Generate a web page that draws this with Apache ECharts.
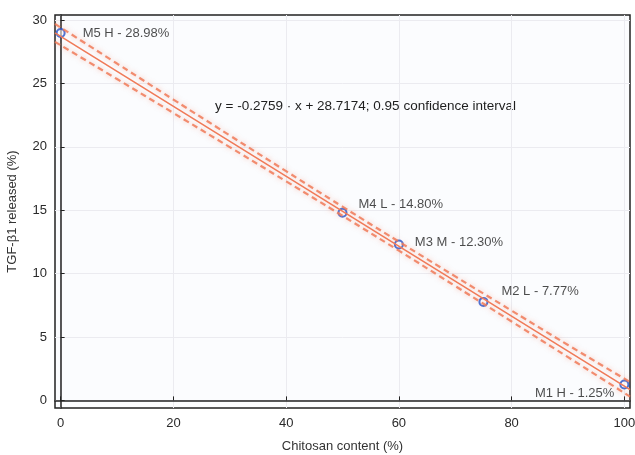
<!DOCTYPE html>
<html>
<head>
<meta charset="utf-8">
<script src="https://cdn.jsdelivr.net/npm/echarts@6/dist/echarts.min.js"></script>
<style>
  html, body { margin: 0; padding: 0; background: #fff; }
  #chart { width: 635px; height: 455px; }
</style>
</head>
<body>
<div id="chart"></div>
<script>
// samples
var sampleNames = ['M5 H - 28.98%', 'M4 L - 14.80%', 'M3 M - 12.30%', 'M2 L - 7.77%', 'M1 H - 1.25%'];
var chitosan = [0, 50, 60, 75, 100];
var released = [28.98, 14.80, 12.30, 7.77, 1.25];

// fitted line and 95% band, estimated along the x axis
var fitX = [-1, 101];
var fitY = [28.99, 0.85];
var bandX = [-1, 10, 20, 30, 40, 50, 60, 70, 80, 90, 101];
var bandUpper = [29.70, 26.57, 23.73, 20.90, 18.08, 15.28, 12.52, 9.78, 7.08, 4.37, 1.45];
var bandLower = [28.28, 25.35, 22.67, 19.98, 17.28, 14.56, 11.81, 9.02, 6.22, 3.41, 0.30];

var xTicks = [0, 20, 40, 60, 80, 100];
var yTicks = [0, 5, 10, 15, 20, 25, 30];

var equationText = 'y = -0.2759 \u00b7 x + 28.7174; 0.95 confidence interval';

var font = '"Liberation Sans", Arial, sans-serif';
var lineColor = '#f07a58';

// where each label sits relative to its point
var labelPlace = {
  'M5 H - 28.98%': { position: 'right', offset: [12, 0] },
  'M4 L - 14.80%': { position: 'right', offset: [6, -8] },
  'M3 M - 12.30%': { position: 'right', offset: [6, -2] },
  'M2 L - 7.77%': { position: 'right', offset: [8, -10] },
  'M1 H - 1.25%': { position: 'left', offset: [0, 9] }
};

function zip(xs, ys) {
  return xs.map(function (x, i) { return [x, ys[i]]; });
}

var myChart = echarts.init(document.getElementById('chart'));

var option = {
  backgroundColor: '#ffffff',
  animation: false,
  textStyle: { fontFamily: font },
  grid: {
    left: 55, right: 5, top: 15, bottom: 47,
    outerBoundsMode: 'none',
    containLabel: false,
    show: true,
    backgroundColor: '#fbfcfe',
    borderColor: '#222',
    borderWidth: 1.5
  },
  graphic: [{
    type: 'text',
    left: 215,
    top: 99,
    style: { text: equationText, fill: '#1e1e1e', font: '13.5px ' + font }
  }],
  xAxis: {
    type: 'value',
    min: -1,
    max: 101,
    name: 'Chitosan content (%)',
    nameLocation: 'middle',
    nameGap: 32,
    nameTextStyle: { color: '#333', fontSize: 13 },
    axisLine: { lineStyle: { color: '#222', width: 1.5 } },
    axisTick: { inside: true, length: 4, customValues: xTicks, lineStyle: { color: '#222' } },
    axisLabel: { customValues: xTicks, color: '#2a2a2a', fontSize: 13, margin: 9 },
    splitLine: { show: true, lineStyle: { color: '#ebebf0', width: 1 } }
  },
  yAxis: {
    type: 'value',
    min: -0.6,
    max: 30.4,
    name: 'TGF-β1 released (%)',
    nameLocation: 'middle',
    nameGap: 36,
    nameTextStyle: { color: '#333', fontSize: 13 },
    axisLine: { lineStyle: { color: '#222', width: 1.5 } },
    axisTick: { inside: true, length: 4, customValues: yTicks, lineStyle: { color: '#222' } },
    axisLabel: { customValues: yTicks, color: '#2a2a2a', fontSize: 13, margin: 8 },
    splitLine: { show: true, lineStyle: { color: '#ebebf0', width: 1 } }
  },
  series: [
    {
      type: 'line',
      data: zip(bandX, bandUpper),
      showSymbol: false,
      smooth: true,
      lineStyle: { color: lineColor, width: 2.2, type: [6, 4], opacity: 0.85,
        shadowBlur: 5, shadowColor: 'rgba(240,122,88,0.6)' }
    },
    {
      type: 'line',
      data: zip(bandX, bandLower),
      showSymbol: false,
      smooth: true,
      lineStyle: { color: lineColor, width: 2.2, type: [6, 4], opacity: 0.85,
        shadowBlur: 5, shadowColor: 'rgba(240,122,88,0.6)' }
    },
    {
      type: 'line',
      data: zip(fitX, fitY),
      showSymbol: false,
      lineStyle: { color: lineColor, width: 1.6 }
    },
    {
      type: 'scatter',
      symbolSize: 8,
      itemStyle: { color: 'rgba(255,255,255,0.7)', borderColor: '#1a4fd0', borderWidth: 2 },
      data: chitosan.map(function (x, i) {
        var p = labelPlace[sampleNames[i]];
        return {
          value: [x, released[i]],
          label: {
            show: true,
            formatter: sampleNames[i],
            position: p.position,
            offset: p.offset,
            color: '#1e1e1e',
            fontSize: 13
          }
        };
      })
    }
  ]
};
myChart.setOption(option);
</script>
</body>
</html>
